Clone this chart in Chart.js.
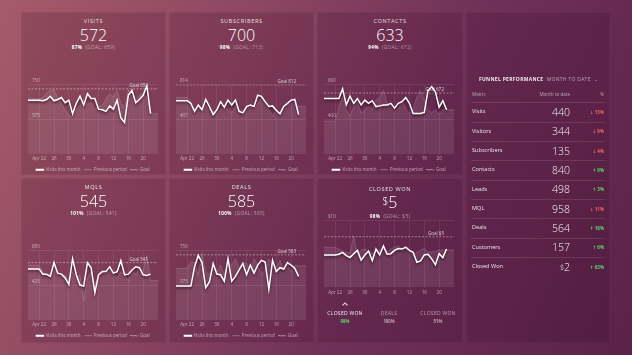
<!DOCTYPE html>
<html><head><meta charset="utf-8">
<script src="https://cdn.jsdelivr.net/npm/chart.js@4.4.1/dist/chart.umd.min.js"></script>
<style>
html,body{margin:0;padding:0;width:632px;height:355px;overflow:hidden;}
body{background:linear-gradient(115deg,#a65b69 0%,#8d4762 32%,#6f3058 62%,#5b2249 100%);font-family:"Open Sans",sans-serif;color:#fff;position:relative;}
.panel{position:absolute;background:rgba(45,0,30,0.17);box-shadow:inset 0 0 0 1px rgba(255,255,255,0.04);}
.t{position:absolute;left:0;right:0;text-align:center;line-height:1;white-space:nowrap;}
.title{font-size:5.6px;letter-spacing:0.6px;color:rgba(255,255,255,0.85);}
.num{font-size:16px;font-weight:300;}
.num small{font-size:10px;vertical-align:3px;}
.sub{font-size:4.6px;letter-spacing:0.4px;color:rgba(255,255,255,0.5);}
.sub b{color:#fff;font-weight:700;}
canvas{position:absolute;}
.tb{position:absolute;line-height:1;white-space:nowrap;}
.sep{position:absolute;left:5px;right:5px;height:1px;background:rgba(255,255,255,0.1);}
.arr{font-family:"DejaVu Sans",sans-serif;font-weight:700;}
.caret{position:absolute;width:3px;height:3px;border-left:1px solid rgba(255,255,255,0.85);border-top:1px solid rgba(255,255,255,0.85);transform:rotate(45deg);}
</style></head>
<body>
<div id="root"></div>
<script>
// ---------- data ----------
const dayLabels = ['19','20','21','Apr 22','23','24','25','26','27','28','29','30','1','2','3','4','5','6','7','8','9','10','11','12','13','14','15','16','17','18','19','20','21','22','23','24'];
const tickDays = ['Apr 22','26','30','4','8','12','16','20'];
const seriesNames = ['Visits this month','Previous period','Goal'];

const visitsThisMonth = [583,583,583,583,576,590,625,576,590,611,556,583,437,549,625,531,653,601,601,486,479,462,521,486,583,392,340,635,688,556,590,635,740,437];
const visitsPrevious = [597,597,597,597,611,660,688,694,611,549,479,417,403,479,514,583,531,556,479,514,531,597,653,618,688,549,514,694,618,583,635,660,600,437,437,437];
const subscribersThisMonth = [626,626,626,626,595,501,576,520,641,558,463,520,615,550,633,576,633,501,483,558,576,558,690,678,615,558,565,513,474,558,595,633,641,463];
const subscribersPrevious = [663,663,663,663,615,520,558,483,576,520,501,474,520,539,520,483,558,520,501,539,558,520,595,663,595,520,444,520,452,520,576,595,615,558,558,558];
const contactsThisMonth = [641,641,641,641,641,752,567,667,585,641,567,622,585,615,548,556,567,567,585,530,585,604,652,585,467,467,467,481,733,778,715,541,615,511];
const contactsPrevious = [381,381,381,381,548,659,511,437,548,622,474,511,548,511,622,652,733,585,548,511,511,622,511,474,511,659,733,622,511,474,511,456,511,511,511,511];
const mqlsThisMonth = [626,626,626,626,563,563,535,704,575,563,516,437,752,555,429,417,704,641,338,555,594,594,653,575,594,728,555,563,614,653,641,555,547,563];
const mqlsPrevious = [673,673,673,673,594,555,575,673,555,516,555,476,594,516,555,240,516,594,437,555,594,555,614,555,516,594,555,476,614,555,634,594,791,484,484,484];
const dealsThisMonth = [368,368,368,368,368,576,698,622,351,413,611,497,490,420,663,420,472,542,611,490,594,507,594,646,628,333,646,524,566,552,622,594,559,472];
const dealsPrevious = [559,559,559,559,628,622,490,715,524,490,559,524,594,490,628,594,663,559,628,611,524,663,594,490,542,663,594,559,646,542,601,524,594,587,587,587];
const closedWonThisMonth = [4.88,4.88,4.88,4.88,4.98,5.27,4.78,4.49,5.07,5.56,4.10,4.88,5.46,4.00,5.76,4.88,6.24,4.98,5.07,5.56,5.85,5.76,6.05,5.56,5.27,3.80,4.00,4.88,4.98,4.29,3.41,5.07,4.49,5.76];
const closedWonPrevious = [6.05,6.05,6.05,6.05,5.76,5.46,5.27,5.12,7.71,4.88,5.61,5.76,5.37,5.12,5.37,5.61,5.85,5.27,5.76,6.05,6.24,5.76,5.85,5.46,4.88,5.27,5.61,5.85,5.27,5.37,5.46,5.61,5.61,5.61,5.61,5.61];

const cardTitles = ['VISITS','SUBSCRIBERS','CONTACTS','MQLS','DEALS','CLOSED WON'];
const cardValues = ['572','700','633','545','585','5'];
const cardPercents = ['87%','98%','94%','101%','100%','98%'];
const cardGoals = ['659','713','672','541','583','$5'];
const goalLineValues = [705,812,704,704,705,7.6];
const goalLabels = ['Goal 659','Goal 812','Goal 672','Goal 541','Goal 583','Goal $5'];
const axisTops = [750,814,800,850,750,10];

const closedWonTabs = ['CLOSED WON','DEALS','CLOSED WON'];
const closedWonTabPercents = ['98%','100%','51%'];

const tableMetrics = ['Visits','Visitors','Subscribers','Contacts','Leads','MQL','Deals','Customers','Closed Won'];
const tableValues = ['440','344','135','840','498','958','564','157','$2'];
const tableChanges = [-13,-9,-4,9,3,-11,18,6,63];

// ---------- layout ----------
const root = document.getElementById('root');
function el(parent, cls, html, style){const d=document.createElement('div');d.className=cls;if(html!==undefined)d.innerHTML=html;if(style)Object.assign(d.style,style);parent.appendChild(d);return d;}
const panelPos = [[21,12,145,163],[169,12,145,163],[317,12,146,163],[21,178,145,165],[169,178,145,165],[317,178,146,165]];
const panels = panelPos.map(p=>el(root,'panel',undefined,{left:p[0]+'px',top:p[1]+'px',width:p[2]+'px',height:p[3]+'px'}));
const tablePanel = el(root,'panel',undefined,{left:'466px',top:'12px',width:'144px',height:'331px'});

const series = [
  [visitsThisMonth,visitsPrevious],[subscribersThisMonth,subscribersPrevious],[contactsThisMonth,contactsPrevious],
  [mqlsThisMonth,mqlsPrevious],[dealsThisMonth,dealsPrevious],[closedWonThisMonth,closedWonPrevious]];

const shadowPlugin = {id:'lineShadow',
  beforeDatasetDraw(chart,args){ if(args.index===0){const c=chart.ctx;c.save();c.shadowColor='rgba(30,0,20,0.65)';c.shadowBlur=2.5;c.shadowOffsetY=1.8;} },
  afterDatasetDraw(chart,args){ if(args.index===0) chart.ctx.restore(); }};
const goalLabelPlugin = {id:'goalLabel',
  afterDatasetsDraw(chart,args,opts){ if(!opts || opts.text===undefined) return;
    const y=chart.scales.y.getPixelForValue(opts.value); const c=chart.ctx; c.save();
    c.font='4.5px "Open Sans"'; c.fillStyle='rgba(255,255,255,0.75)'; c.textAlign='right'; c.textBaseline='bottom';
    c.fillText(opts.text, chart.chartArea.right-10, y-1); c.restore(); }};

function isTick(i){ return (i-3)%4===0 && i>=3 && tickDays.includes(dayLabels[i]); }

cardTitles.forEach((title,k)=>{
  const p = panels[k];
  const cw = k===5;
  const off = cw?1.5:0;
  el(p,'t title',title,{top:(7+off)+'px'});
  el(p,'t num',cw?'<small>$</small>'+cardValues[k]:cardValues[k],{top:(14.5+off)+'px'});
  el(p,'t sub','<b>'+cardPercents[k]+'</b>&nbsp; (GOAL: '+cardGoals[k]+')',{top:(33.3+(cw?3:0))+'px'});
  const cv = document.createElement('canvas');
  const h = cw?83:104, top = cw?36:66;
  cv.width=140; cv.height=h; cv.style.left='2px'; cv.style.top=top+'px'; cv.style.width='140px'; cv.style.height=h+'px';
  p.appendChild(cv);
  const topV = axisTops[k];
  const fmt = v => cw ? '$'+v : String(v);
  new Chart(cv,{
    type:'line',
    data:{labels:dayLabels,datasets:[
      {label:seriesNames[0],data:series[k][0],borderColor:'#ffffff',backgroundColor:'#ffffff',borderWidth:1.5,pointRadius:0,tension:0,fill:false,order:0},
      {label:seriesNames[1],data:series[k][1],borderColor:'rgba(255,255,255,0.22)',backgroundColor:'rgba(255,255,255,0.09)',borderWidth:0.7,pointRadius:0,tension:0,fill:'origin',order:2},
      {label:seriesNames[2],data:dayLabels.map(()=>goalLineValues[k]),borderColor:'rgba(255,255,255,0.6)',backgroundColor:'rgba(255,255,255,0)',borderDash:[2,1.5],borderWidth:0.7,pointRadius:0,fill:false,order:1}
    ]},
    options:{responsive:false,animation:false,devicePixelRatio:1,
      layout:{padding:{top:6,left:0,right:0,bottom:0}},
      plugins:{
        legend:{display:!cw,position:'bottom',labels:{color:'rgba(255,255,255,0.55)',font:{size:4.5,family:'Open Sans'},boxWidth:7,boxHeight:0.5,padding:4,sort:(a,b)=>a.datasetIndex-b.datasetIndex}},
        tooltip:{enabled:false},
        goalLabel:{value:goalLineValues[k],text:goalLabels[k]}
      },
      scales:{
        x:{grid:{color:c=>isTick(c.index)?'rgba(255,255,255,0.13)':'rgba(0,0,0,0)',drawTicks:false,lineWidth:0.6},border:{display:false},
           ticks:{autoSkip:false,maxRotation:0,color:'rgba(255,255,255,0.55)',font:{size:4.5,family:'Open Sans'},padding:2,callback:(v,i)=>isTick(i)?dayLabels[i]:''}},
        y:{min:0,max:topV,afterBuildTicks:a=>{a.ticks=cw?[{value:topV}]:[{value:topV/2},{value:topV}];},afterFit:a=>{a.width=5;},
           grid:{color:'rgba(255,255,255,0.15)',drawTicks:false,lineWidth:0.6},border:{display:false},
           ticks:{mirror:true,padding:4,labelOffset:-3.5,color:'rgba(255,255,255,0.55)',font:{size:4.5,family:'Open Sans'},callback:v=>fmt(v)}},
        yR:{position:'right',min:0,max:topV,afterFit:a=>{a.width=5;},grid:{display:false},border:{display:false},ticks:{display:false}}
      }
    },
    plugins:[shadowPlugin,goalLabelPlugin]
  });
});

// closed won tabs
const cwp = panels[5];
const tabX = [28,72,121];
const caret = document.createElement('div'); caret.className='caret'; caret.style.left=(tabX[0]-2)+'px'; caret.style.top='125px'; cwp.appendChild(caret);
closedWonTabs.forEach((t,i)=>{
  el(cwp,'tb',t,{left:(tabX[i]-30)+'px',width:'60px',textAlign:'center',top:'132.5px',fontSize:'5px',letterSpacing:'0.3px',color:i===0?'rgba(255,255,255,0.9)':'rgba(255,255,255,0.5)'});
  el(cwp,'tb',closedWonTabPercents[i],{left:(tabX[i]-30)+'px',width:'60px',textAlign:'center',top:'140.5px',fontSize:'4.3px',fontWeight:'700',color:i===0?'#5bd36a':'rgba(255,255,255,0.55)'});
});

// funnel table
el(tablePanel,'tb','<b>FUNNEL PERFORMANCE</b>&nbsp; <span style="color:rgba(255,255,255,0.55)">MONTH TO DATE &nbsp;&#8964;</span>',{left:'13px',top:'64.5px',fontSize:'5px',letterSpacing:'0.3px',color:'rgba(255,255,255,0.9)'});
el(tablePanel,'tb','Metric',{left:'6px',top:'79.5px',fontSize:'4.6px',color:'rgba(255,255,255,0.55)'});
el(tablePanel,'tb','Month to date',{right:'40px',top:'79.5px',fontSize:'4.6px',color:'rgba(255,255,255,0.55)'});
el(tablePanel,'tb','%',{right:'6px',top:'79.5px',fontSize:'4.6px',color:'rgba(255,255,255,0.55)'});
tableMetrics.forEach((m,i)=>{
  const cy = 100.3 + 19.35*i;
  el(tablePanel,'sep',undefined,{top:(cy-10)+'px'});
  el(tablePanel,'tb',m,{left:'6px',top:(cy-3)+'px',fontSize:'5.6px',color:'rgba(255,255,255,0.88)'});
  const v = tableValues[i];
  const vh = v[0]==='$' ? '<span style="font-size:6.5px;vertical-align:1.5px">$</span>'+v.slice(1) : v;
  el(tablePanel,'tb',vh,{right:'40px',top:(cy-5.5)+'px',fontSize:'10.5px',fontWeight:'300',color:'rgba(255,255,255,0.92)'});
  const ch = tableChanges[i];
  el(tablePanel,'tb','<span class="arr">'+(ch<0?'\u2193':'\u2191')+'</span> '+Math.abs(ch)+'%',{right:'6px',top:(cy-2.3)+'px',fontSize:'4.5px',fontWeight:'700',color:ch<0?'#f0645a':'#5bd36a'});
});
</script>
</body></html>
